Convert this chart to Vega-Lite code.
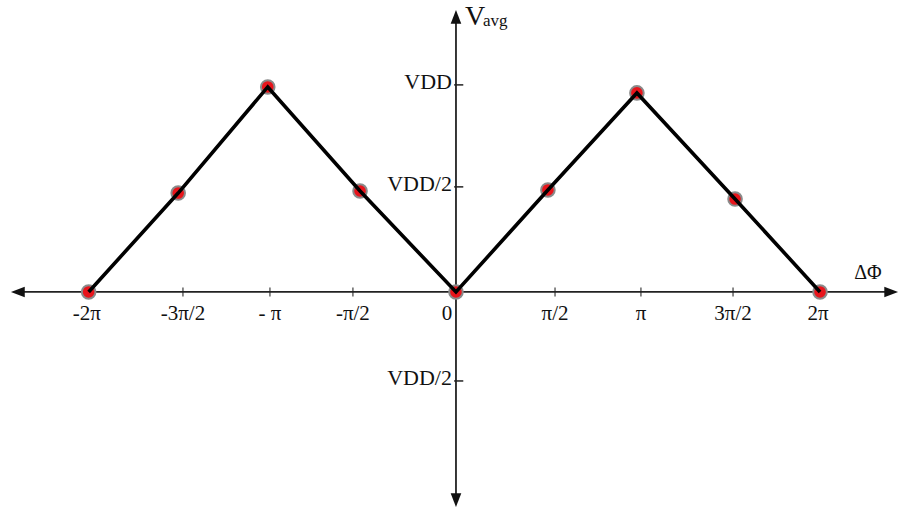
{
  "$schema": "https://vega.github.io/schema/vega-lite/v6.json",
  "width": 903,
  "height": 512,
  "autosize": {"type": "fit", "contains": "padding"},
  "padding": 0,
  "background": "white",
  "config": {"view": {"stroke": null}, "text": {"font": "Liberation Serif", "color": "#111"}},
  "data": {"values": [{}]},
  "datasets": {
    "curve": [
      {"phase": -2.01, "vavg": 0},
      {"phase": -1.52, "vavg": 0.48},
      {"phase": -1.03, "vavg": 0.995},
      {"phase": -0.525, "vavg": 0.49},
      {"phase": 0, "vavg": 0},
      {"phase": 0.503, "vavg": 0.495},
      {"phase": 0.99, "vavg": 0.966},
      {"phase": 1.527, "vavg": 0.451},
      {"phase": 1.992, "vavg": 0}
    ],
    "xticks": [
      {"phase": -2.02, "label": "-2π", "tick": false},
      {"phase": -1.494, "label": "-3π/2", "tick": true},
      {"phase": -1.018, "label": "- π", "tick": true},
      {"phase": -0.564, "label": "-π/2", "tick": true},
      {"phase": 0.542, "label": "π/2", "tick": true},
      {"phase": 1.012, "label": "π", "tick": true},
      {"phase": 1.516, "label": "3π/2", "tick": true},
      {"phase": 1.981, "label": "2π", "tick": false}
    ],
    "yticks": [
      {"vavg": 1.005, "label": "VDD"},
      {"vavg": 0.51, "label": "VDD/2"},
      {"vavg": -0.432, "label": "VDD/2"}
    ],
    "arrows": [
      {"phase": -2.435, "vavg": 0, "dir": "left"},
      {"phase": 2.419, "vavg": 0, "dir": "right"},
      {"phase": 0, "vavg": 1.369, "dir": "up"},
      {"phase": 0, "vavg": -1.044, "dir": "down"}
    ]
  },
  "layer": [
    {
      "mark": {"type": "rule", "stroke": "#222", "strokeWidth": 1.8},
      "encoding": {
        "x": {"datum": -2.4, "type": "quantitative", "scale": {"domain": [-2.495, 2.446], "nice": false, "zero": false}, "axis": null},
        "x2": {"datum": 2.38},
        "y": {"datum": 0, "type": "quantitative", "scale": {"domain": [-1.068, 1.417], "nice": false, "zero": false}, "axis": null}
      }
    },
    {
      "mark": {"type": "rule", "stroke": "#222", "strokeWidth": 1.8},
      "encoding": {
        "x": {"datum": 0, "type": "quantitative", "axis": null},
        "y": {"datum": -1.0, "type": "quantitative", "axis": null},
        "y2": {"datum": 1.33}
      }
    },
    {
      "data": {"name": "arrows"},
      "mark": {"type": "point", "filled": true, "fill": "#111", "opacity": 1, "strokeWidth": 0, "size": 190},
      "encoding": {
        "x": {"field": "phase", "type": "quantitative", "axis": null},
        "y": {"field": "vavg", "type": "quantitative", "axis": null},
        "shape": {
          "field": "dir",
          "type": "nominal",
          "legend": null,
          "scale": {
            "domain": ["left", "right", "up", "down"],
            "range": ["M0,0L2,-0.77L2,0.77Z", "M0,0L-2,-0.77L-2,0.77Z", "M0,0L-0.77,2L0.77,2Z", "M0,0L-0.77,-2L0.77,-2Z"]
          }
        }
      }
    },
    {
      "data": {"name": "xticks"},
      "transform": [{"filter": "datum.tick"}],
      "mark": {"type": "tick", "orient": "vertical", "color": "#222", "size": 9, "thickness": 1.5},
      "encoding": {
        "x": {"field": "phase", "type": "quantitative", "axis": null},
        "y": {"datum": 0, "type": "quantitative", "axis": null}
      }
    },
    {
      "data": {"name": "xticks"},
      "mark": {"type": "text", "fontSize": 21, "baseline": "middle", "align": "center", "dy": 22},
      "encoding": {
        "x": {"field": "phase", "type": "quantitative", "axis": null},
        "y": {"datum": 0, "type": "quantitative", "axis": null},
        "text": {"field": "label"}
      }
    },
    {
      "mark": {"type": "text", "fontSize": 21, "baseline": "middle", "align": "center", "dx": -9, "dy": 22},
      "encoding": {
        "x": {"datum": 0, "type": "quantitative", "axis": null},
        "y": {"datum": 0, "type": "quantitative", "axis": null},
        "text": {"value": "0"}
      }
    },
    {
      "data": {"name": "yticks"},
      "mark": {"type": "rule", "stroke": "#222", "strokeWidth": 1.5},
      "encoding": {
        "x": {"datum": -0.01, "type": "quantitative", "axis": null},
        "x2": {"datum": 0.04},
        "y": {"field": "vavg", "type": "quantitative", "axis": null}
      }
    },
    {
      "data": {"name": "yticks"},
      "mark": {"type": "text", "fontSize": 22, "baseline": "middle", "align": "right", "dx": -4, "dy": -3},
      "encoding": {
        "x": {"datum": 0, "type": "quantitative", "axis": null},
        "y": {"field": "vavg", "type": "quantitative", "axis": null},
        "text": {"field": "label"}
      }
    },
    {
      "mark": {"type": "text", "fontSize": 28, "baseline": "alphabetic", "align": "left", "dx": 9},
      "encoding": {
        "x": {"datum": 0, "type": "quantitative", "axis": null},
        "y": {"datum": 1.296, "type": "quantitative", "axis": null},
        "text": {"value": "V"}
      }
    },
    {
      "mark": {"type": "text", "fontSize": 17, "baseline": "alphabetic", "align": "left", "dx": 27},
      "encoding": {
        "x": {"datum": 0, "type": "quantitative", "axis": null},
        "y": {"datum": 1.29, "type": "quantitative", "axis": null},
        "text": {"value": "avg"}
      }
    },
    {
      "mark": {"type": "text", "fontSize": 20, "baseline": "middle", "align": "center", "dy": -19},
      "encoding": {
        "x": {"datum": 2.254, "type": "quantitative", "axis": null},
        "y": {"datum": 0, "type": "quantitative", "axis": null},
        "text": {"value": "ΔΦ"}
      }
    },
    {
      "data": {"name": "curve"},
      "mark": {"type": "point", "filled": true, "fill": "#e8141b", "stroke": "#8a8a8a", "strokeWidth": 2, "opacity": 1, "size": 185},
      "encoding": {
        "x": {"field": "phase", "type": "quantitative", "axis": null},
        "y": {"field": "vavg", "type": "quantitative", "axis": null}
      }
    },
    {
      "data": {"name": "curve"},
      "mark": {"type": "line", "color": "#000", "strokeWidth": 3.6},
      "encoding": {
        "x": {"field": "phase", "type": "quantitative", "axis": null},
        "y": {"field": "vavg", "type": "quantitative", "axis": null}
      }
    }
  ]
}
